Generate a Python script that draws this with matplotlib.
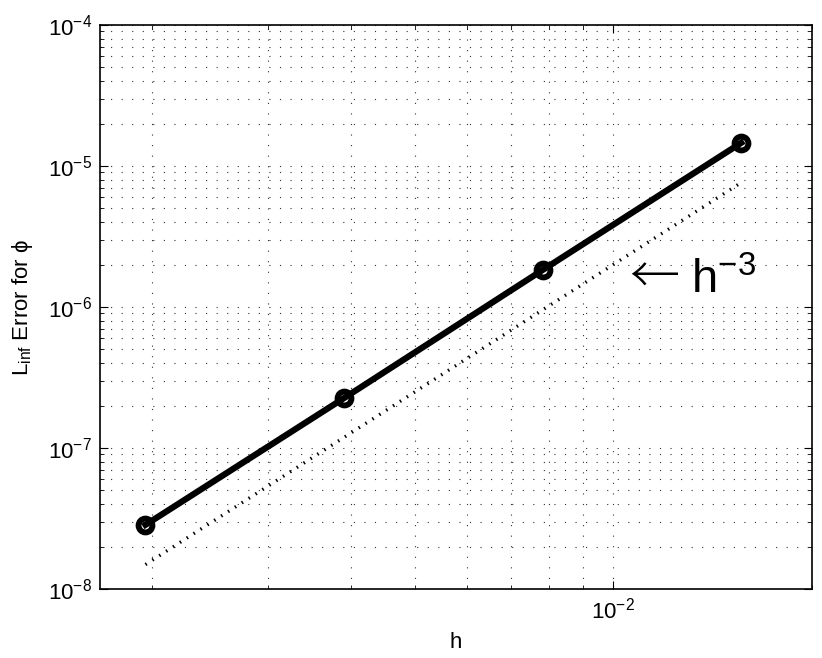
import matplotlib
matplotlib.use('Agg')
import matplotlib.pyplot as plt
from matplotlib.ticker import LogLocator, NullFormatter

plt.rcParams['font.family'] = ['Liberation Sans', 'DejaVu Sans']
plt.rcParams['mathtext.fontset'] = 'custom'
plt.rcParams['mathtext.rm'] = 'Liberation Sans'
plt.rcParams['mathtext.it'] = 'Liberation Sans'
plt.rcParams['mathtext.default'] = 'regular'

# 격자 간격과 오차 (h = 1/512 ... 1/64)
h = [1/512, 1/256, 1/128, 1/64]
err = [2.85e-8, 2.26e-7, 1.83e-6, 1.46e-5]
# 기준선 2*h^3
ref = [1.49e-8, 1.19e-7, 9.54e-7, 7.63e-6]

xlim = (1/600, 1/50)
ylim = (1e-8, 1e-4)

fig = plt.figure(figsize=(8.22, 6.58), dpi=100)
ax = fig.add_axes([0.1217, 0.1049, 0.8661, 0.8571])

ax.loglog(h, err, color='k', linewidth=4.5, marker='o', markersize=10,
          markerfacecolor='none', markeredgewidth=4.2, zorder=4)
ax.loglog(h, ref, color='k', linewidth=2.4, linestyle=(0, (0.45, 2.0)), zorder=3)

ax.set_xlim(*xlim)
ax.set_ylim(*ylim)

ax.xaxis.set_major_locator(LogLocator(base=10, numticks=10))
ax.xaxis.set_minor_locator(LogLocator(base=10, subs=range(2, 10), numticks=20))
ax.yaxis.set_minor_locator(LogLocator(base=10, subs=range(2, 10), numticks=20))
ax.xaxis.set_minor_formatter(NullFormatter())
ax.yaxis.set_minor_formatter(NullFormatter())

ax.grid(True, which='both', color='0.2', linestyle=(0, (1, 8.5)), linewidth=0.8)
ax.tick_params(which='both', direction='in', top=True, right=True, labelsize=16)
ax.tick_params(which='major', length=6, width=0.8, pad=6)
ax.tick_params(which='minor', length=3, width=0.6)
for s in ax.spines.values():
    s.set_linewidth(1.2)

ax.set_xlabel('h', fontsize=16, labelpad=6)
ax.set_ylabel(r'L$_{inf}$ Error for ϕ', fontsize=16, labelpad=9)

# 기울기 표시
ax.text(0.01058, 1.55e-6, '←', fontsize=36, family=['Noto Sans CJK JP', 'DejaVu Sans'],
        fontweight='light', ha='left', va='center')
ax.text(0.01311, 1.256e-6, r'h$^{-3}$', fontsize=34, ha='left', va='baseline')

fig.savefig('out.png', dpi=100)
